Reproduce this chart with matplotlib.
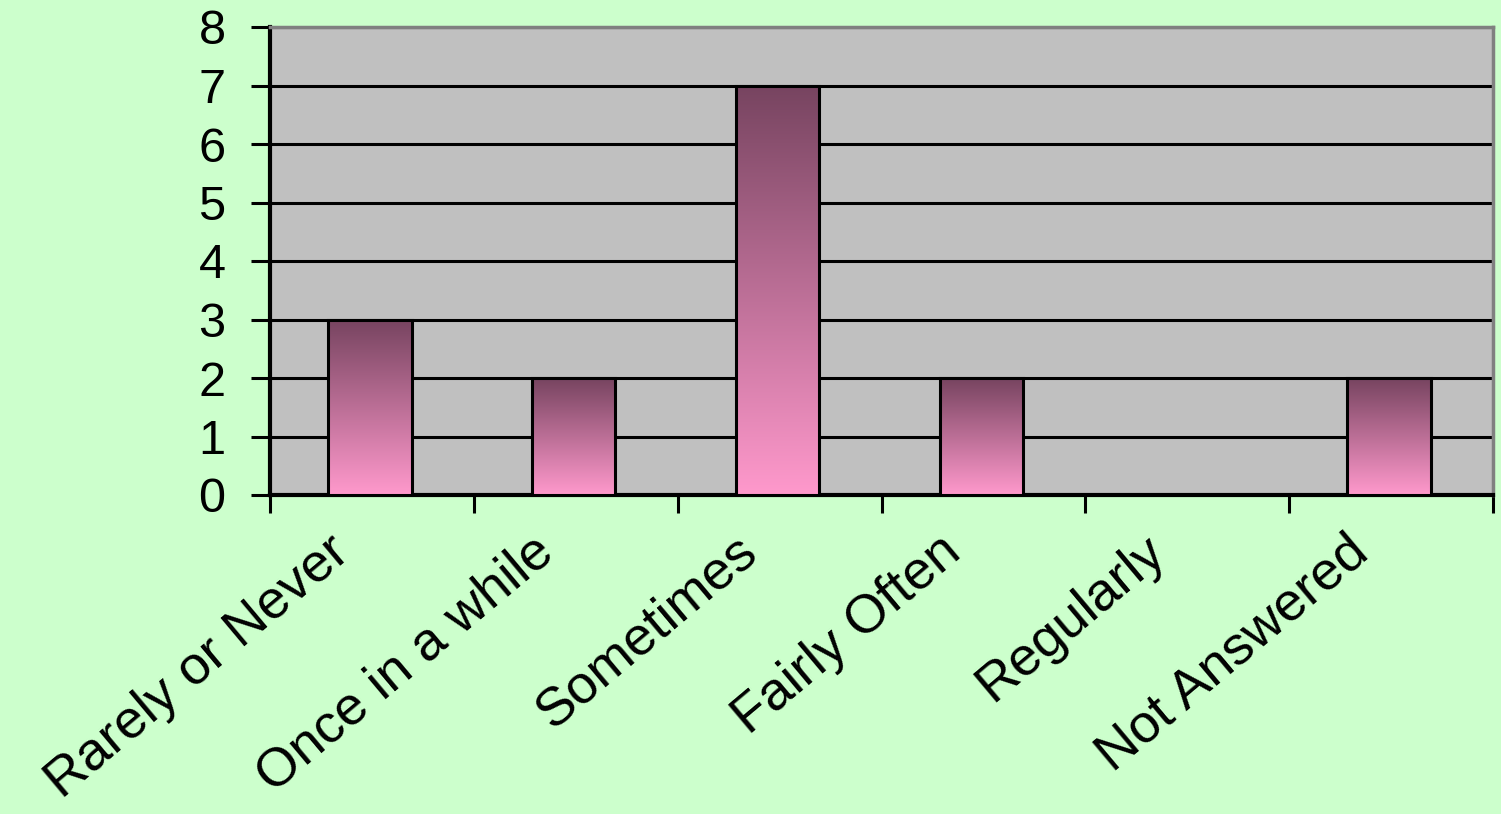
import numpy as np
import matplotlib
matplotlib.use("Agg")
import matplotlib.pyplot as plt
from matplotlib.colors import LinearSegmentedColormap
from matplotlib.transforms import ScaledTranslation

categories = ["Rarely or Never", "Once in a while", "Sometimes", "Fairly Often", "Regularly", "Not Answered"]
values = [3, 2, 7, 2, 0, 2]
y_ticks = [0, 1, 2, 3, 4, 5, 6, 7, 8]

plt.rcParams['font.family'] = ['Liberation Sans', 'DejaVu Sans']

fig = plt.figure(figsize=(15.01, 8.14), dpi=100, facecolor='#CCFFCC')
ax = fig.add_axes([270/1501, 1-495/814, (1493-270)/1501, (495-27)/814])
ax.set_facecolor('#C0C0C0')

cmap = LinearSegmentedColormap.from_list('pinkgrad', ['#FF99CC', '#774460'])
grad = np.linspace(0, 1, 256).reshape(-1, 1)

width = 0.41
x = np.arange(len(categories)) + 0.49
for xi, v in zip(x, values):
    if v <= 0:
        continue
    ax.imshow(grad, cmap=cmap, origin='lower', aspect='auto',
              extent=[xi - width/2, xi + width/2, 0, v], zorder=3, interpolation='bilinear')
    ax.bar(xi, v, width=width, facecolor='none', edgecolor='black', linewidth=2.2, zorder=4)

ax.set_xlim(0, len(categories))
ax.set_ylim(0, 8)
ax.set_yticks(y_ticks)
ax.set_yticklabels([str(t) for t in y_ticks], fontsize=35)
ax.yaxis.grid(True, color='black', linewidth=2.2, zorder=1)
ax.set_axisbelow(True)

# major ticks at category boundaries, labels at centers
ax.set_xticks(np.arange(len(categories) + 1))
ax.set_xticklabels([])
ax.set_xticks(x, minor=True)
ax.set_xticklabels(categories, minor=True, fontsize=39, rotation=40,
                   ha='right', va='center', rotation_mode='anchor')
ax.tick_params(axis='x', which='minor', length=0, pad=36)
ax.tick_params(axis='x', which='major', length=13, width=2.2, direction='out', color='black')
ax.tick_params(axis='y', length=14, width=2.2, direction='out', pad=18, color='black')
for lbl in ax.get_xticklabels(minor=True):
    lbl.set_transform(lbl.get_transform() + ScaledTranslation(-0.27, 0, fig.dpi_scale_trans))

for s in ['left', 'bottom']:
    ax.spines[s].set_color('black')
    ax.spines[s].set_linewidth(3)
for s in ['top', 'right']:
    ax.spines[s].set_color('#808080')
    ax.spines[s].set_linewidth(2.5)

fig.savefig('out.png', dpi=100, facecolor=fig.get_facecolor())
